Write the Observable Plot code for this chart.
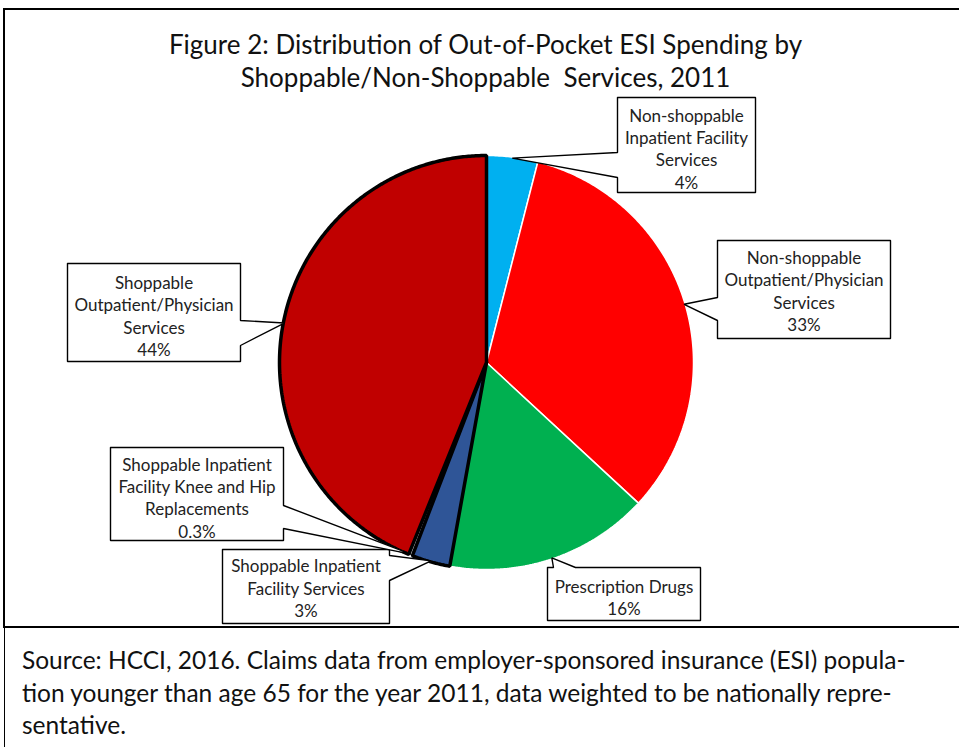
<!DOCTYPE html>
<html><head><meta charset="utf-8">
<script src="https://cdn.jsdelivr.net/npm/d3@7"></script>
<script src="https://cdn.jsdelivr.net/npm/@observablehq/plot@0.6"></script>
<style>
html,body{margin:0;padding:0;background:#fff;}
body{width:959px;height:747px;overflow:hidden;position:relative;font-family:Lato,"Open Sans",sans-serif;color:#111;}
#frame{position:absolute;left:3px;top:8px;width:1000px;height:620px;border:2.5px solid #000;box-sizing:border-box;}
#lower{position:absolute;left:4px;top:628px;width:1000px;height:200px;border-left:1.5px solid #000;box-sizing:border-box;}
#title{position:absolute;left:0;top:28.4px;width:971px;text-align:center;font-size:26px;line-height:33px;white-space:nowrap;}
#chart{position:absolute;left:0;top:0;}
#caption{position:absolute;left:22px;top:644px;font-size:24.5px;line-height:32.5px;white-space:nowrap;}
</style></head>
<body>
<div id="frame"></div>
<div id="lower"></div>
<div id="chart"></div>
<div id="title">Figure 2: Distribution of Out-of-Pocket ESI Spending by<br>Shoppable/Non-Shoppable&nbsp; Services, 2011</div>
<div id="caption">Source: HCCI, 2016. Claims data from employer-sponsored insurance (ESI) popula-<br>tion younger than age 65 for the year 2011, data weighted to be nationally repre-<br>sentative.</div>
<script>
// ---- data ----
const categories = [
  "Non-shoppable Inpatient Facility Services",
  "Non-shoppable Outpatient/Physician Services",
  "Prescription Drugs",
  "Shoppable Inpatient Facility Services",
  "Shoppable Inpatient Facility Knee and Hip Replacements",
  "Shoppable Outpatient/Physician Services"
];
const shares = [4, 33, 16, 3, 0.3, 44];
const shareLabels = ["4%", "33%", "16%", "3%", "0.3%", "44%"];

// ---- styles ----
const fills = ["#00B0F0", "#FF0000", "#00B050", "#2F5597", "#FFFFFF", "#C00000"];
const strokes = ["#FFFFFF", "#FFFFFF", "#FFFFFF", "#000000", "#FFFFFF", "#000000"];
const strokeWidths = [1.5, 1.5, 1.5, 3.5, 0.5, 3.5];

// ---- layout (pixels) ----
const W = 959, H = 627;
const pieCenter = [486, 362], pieRadius = 207;
const wrappedLabels = [
  "Non-shoppable\nInpatient Facility\nServices",
  "Non-shoppable\nOutpatient/Physician\nServices",
  "Prescription Drugs",
  "Shoppable Inpatient\nFacility Services",
  "Shoppable Inpatient\nFacility Knee and Hip\nReplacements",
  "Shoppable\nOutpatient/Physician\nServices"
];
// box [x0,y0,x1,y1], pointer side, pointer base [s0,s1], text dy
const callouts = [
  {box: [617, 97, 755, 192], side: "left", base: [152, 177], dy: 3},
  {box: [717, 240, 890, 338], side: "left", base: [297, 320], dy: 1},
  {box: [547, 567, 700, 620], side: "top", base: [553, 575], dy: 3},
  {box: [222, 549, 389, 623], side: "right", base: [555, 580], dy: 1},
  {box: [110, 447, 283, 540], side: "right", base: [505, 528], dy: 3},
  {box: [67, 263, 240, 361], side: "right", base: [320, 345], dy: 3}
];

// ---- geometry from data ----
const arcs = d3.pie().sort(null).value(d => d)(shares);
const [cx, cy] = pieCenter, R = pieRadius;
const polar = (a, r) => ({x: cx + r * Math.sin(a), y: cy - r * Math.cos(a)});

const slices = arcs.map((p, i) => {
  const n = Math.max(2, Math.ceil((p.endAngle - p.startAngle) / (Math.PI / 360)));
  const pts = [{x: cx, y: cy, i}];
  for (let k = 0; k <= n; k++) {
    const a = p.startAngle + (p.endAngle - p.startAngle) * k / n;
    pts.push({...polar(a, R), i});
  }
  pts.push({x: cx, y: cy, i});
  return pts;
});

const calloutShapes = callouts.map((c, i) => {
  const mid = (arcs[i].startAngle + arcs[i].endAngle) / 2;
  const tip = polar(mid, R - 1);
  const [x0, y0, x1, y1] = c.box, [s0, s1] = c.base;
  const pts = [{x: x0, y: y0}];
  if (c.side === "top") pts.push({x: s0, y: y0}, tip, {x: s1, y: y0});
  pts.push({x: x1, y: y0});
  if (c.side === "right") pts.push({x: x1, y: s0}, tip, {x: x1, y: s1});
  pts.push({x: x1, y: y1});
  pts.push({x: x0, y: y1});
  if (c.side === "left") pts.push({x: x0, y: s1}, tip, {x: x0, y: s0});
  pts.push({x: x0, y: y0});
  return pts;
});

const labelData = callouts.map((c, i) => ({
  x: (c.box[0] + c.box[2]) / 2,
  y: (c.box[1] + c.box[3]) / 2 + c.dy,
  text: wrappedLabels[i] + "\n" + shareLabels[i],
  category: categories[i]
}));

const drawOrder = [0, 1, 2, 4, 3, 5];
const marks = [];
for (const i of drawOrder) {
  marks.push(Plot.line(slices[i], {x: "x", y: "y", fill: fills[i], stroke: strokes[i],
    strokeWidth: strokeWidths[i], strokeLinejoin: "miter", curve: "linear"}));
}
for (const pts of calloutShapes) {
  marks.push(Plot.line(pts, {x: "x", y: "y", fill: "#fff", stroke: "#000", strokeWidth: 1.4, strokeLinejoin: "miter"}));
}
marks.push(Plot.text(labelData, {x: "x", y: "y", text: "text", fontSize: 17, lineHeight: 1.32,
  fontFamily: "Lato, 'Open Sans', sans-serif", fill: "#222", textAnchor: "middle", lineAnchor: "middle"}));

const chart = Plot.plot({
  width: W, height: H,
  margin: 0,
  x: {domain: [0, W], range: [0, W], axis: null},
  y: {domain: [0, H], range: [0, H], axis: null},
  style: {background: "transparent", overflow: "visible"},
  marks
});
document.getElementById("chart").appendChild(chart);
</script>
</body></html>
